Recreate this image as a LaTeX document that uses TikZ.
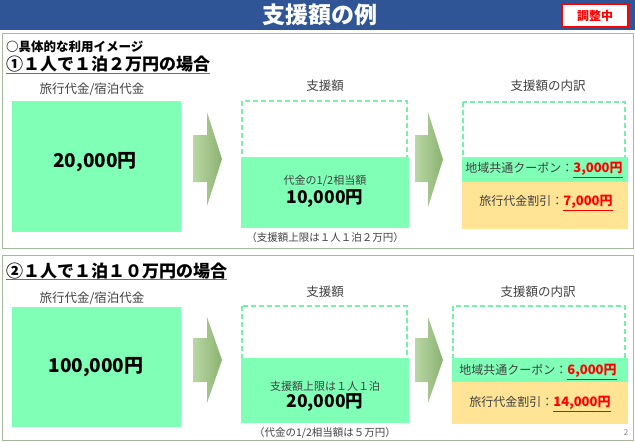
\documentclass[tikz,border=0pt]{standalone}
\usepackage{fontspec}
\setmainfont{Noto Sans CJK JP}
\definecolor{hdrblue}{RGB}{47,85,151}
\definecolor{boxgreen}{RGB}{128,255,183}
\definecolor{dashgreen}{RGB}{120,240,170}
\definecolor{boxorange}{RGB}{255,228,150}
\definecolor{secgray}{RGB}{165,185,155}
\definecolor{labelgray}{RGB}{64,64,64}
\definecolor{arrowL}{RGB}{185,215,165}
\definecolor{arrowR}{RGB}{140,178,112}
\definecolor{ulgray}{RGB}{110,110,110}
\newcommand\bArrow[7]{\shade[left color=arrowL, right color=arrowR] (#1,#5) -- (#2,#5) -- (#2,#4) -- (#3,{(#4+#7)/2}) -- (#2,#7) -- (#2,#6) -- (#1,#6) -- cycle;}
\newcommand\fs[1]{\fontsize{#1}{#1}\selectfont}
\begin{document}
\begin{tikzpicture}[x=1pt,y=-1pt,
  greenfill/.style={fill=boxgreen},
  orangefill/.style={fill=boxorange},
  dashbox/.style={draw=dashgreen, line width=1.3pt, dash pattern=on 5pt off 3pt},
  secbox/.style={draw=secgray, line width=1pt},
  lbl/.style={text=labelgray, font=\fs{12.5}, inner sep=0pt},
  small/.style={text=labelgray, font=\fs{10.5}, inner sep=0pt},
  big/.style={text=black, font=\bfseries\fs{19}, inner sep=0pt},
  mid/.style={text=black, font=\bfseries\fs{17.5}, inner sep=0pt},
  breakdown/.style={text=labelgray, font=\fs{12}, inner sep=0pt}
]
\useasboundingbox (0,0) rectangle (635,442);
% header
\fill[hdrblue] (0,0) rectangle (635,30);
\node[text=white, font=\bfseries\fs{23}, inner sep=0pt] (title) at (320,15) {支援額の例};
\draw[red, line width=1.5pt, fill=white] (562,4) rectangle (628,27);
\node[text=red, font=\bfseries\fs{12}, inner sep=0pt] (status) at (595,15.5) {調整中};
% section frames
\draw[secbox] (2,33) rectangle (633,248);
\draw[secbox] (2,255) rectangle (633,440);
% section 1 headings
\node[anchor=west, font=\bfseries\fs{12.5}, inner sep=0pt] (intro) at (6,47) {○具体的な利用イメージ};
\node[anchor=west, font=\bfseries\fs{17}, inner sep=0pt] (case1) at (6,64) {①１人で１泊２万円の場合};
\draw[ulgray, line width=1pt] (case1.south west |- 0,73) -- (case1.south east |- 0,73);
% ---- section 1 ----
\node[lbl] (lab1a) at (92,89) {旅行代金/宿泊代金};
\fill[greenfill] (12,101) rectangle (181,232);
\node[big] (price1) at (95,162) {20,000円};
\bArrow{193}{207}{222}{112}{135}{182}{206}
\node[lbl] (lab1b) at (325,86) {支援額};
\draw[dashbox] (242,101) rectangle (407,200);
\fill[greenfill] (241,157) rectangle (409,228);
\node[small, font=\fs{11}] (sub1a) at (325,181) {代金の1/2相当額};
\node[mid] (sub1b) at (325,199) {10,000円};
\node[small] (note1) at (325,238) {（支援額上限は１人１泊２万円）};
\bArrow{415}{428}{443}{112}{135}{182}{207}
\node[lbl] (lab1c) at (548,86) {支援額の内訳};
\draw[dashbox] (463,102) rectangle (625,170);
\fill[greenfill] (462,157) rectangle (628,182);
\fill[orangefill] (462,182) rectangle (628,229);
\node[breakdown] (coupon1) at (544,170) {地域共通クーポン：{\color{red}\bfseries\fs{13}\underline{3,000円}}};
\node[breakdown] (disc1) at (546,203) {旅行代金割引：{\color{red}\bfseries\fs{13}\underline{7,000円}}};
% ---- section 2 ----
\node[anchor=west, font=\bfseries\fs{17}, inner sep=0pt] (case2) at (6,271) {②１人で１泊１０万円の場合};
\draw[ulgray, line width=1pt] (case2.south west |- 0,279) -- (case2.south east |- 0,279);
\node[lbl] (lab2a) at (92,298) {旅行代金/宿泊代金};
\fill[greenfill] (12,307) rectangle (181,427);
\node[big] (price2) at (96,367) {100,000円};
\bArrow{193}{207}{222}{317}{338}{382}{403}
\node[lbl] (lab2b) at (325,292) {支援額};
\draw[dashbox] (242,306) rectangle (407,400);
\fill[greenfill] (241,358) rectangle (409,423);
\node[small, font=\fs{11}] (sub2a) at (325,386) {支援額上限は１人１泊};
\node[mid] (sub2b) at (325,403) {20,000円};
\node[small] (note2) at (325,433) {（代金の1/2相当額は５万円）};
\bArrow{415}{428}{443}{317}{338}{382}{403}
\node[lbl] (lab2c) at (538,292) {支援額の内訳};
\draw[dashbox] (453,306) rectangle (625,370);
\fill[greenfill] (452,358) rectangle (628,382);
\fill[orangefill] (452,382) rectangle (628,424);
\node[breakdown] (coupon2) at (538,372) {地域共通クーポン：{\color{red}\bfseries\fs{13}\underline{6,000円}}};
\node[breakdown] (disc2) at (540,404) {旅行代金割引：{\color{red}\bfseries\fs{13}\underline{14,000円}}};
\node[text=gray, font=\fs{8}, inner sep=0pt] (page) at (626,433) {2};
\end{tikzpicture}
\end{document}
